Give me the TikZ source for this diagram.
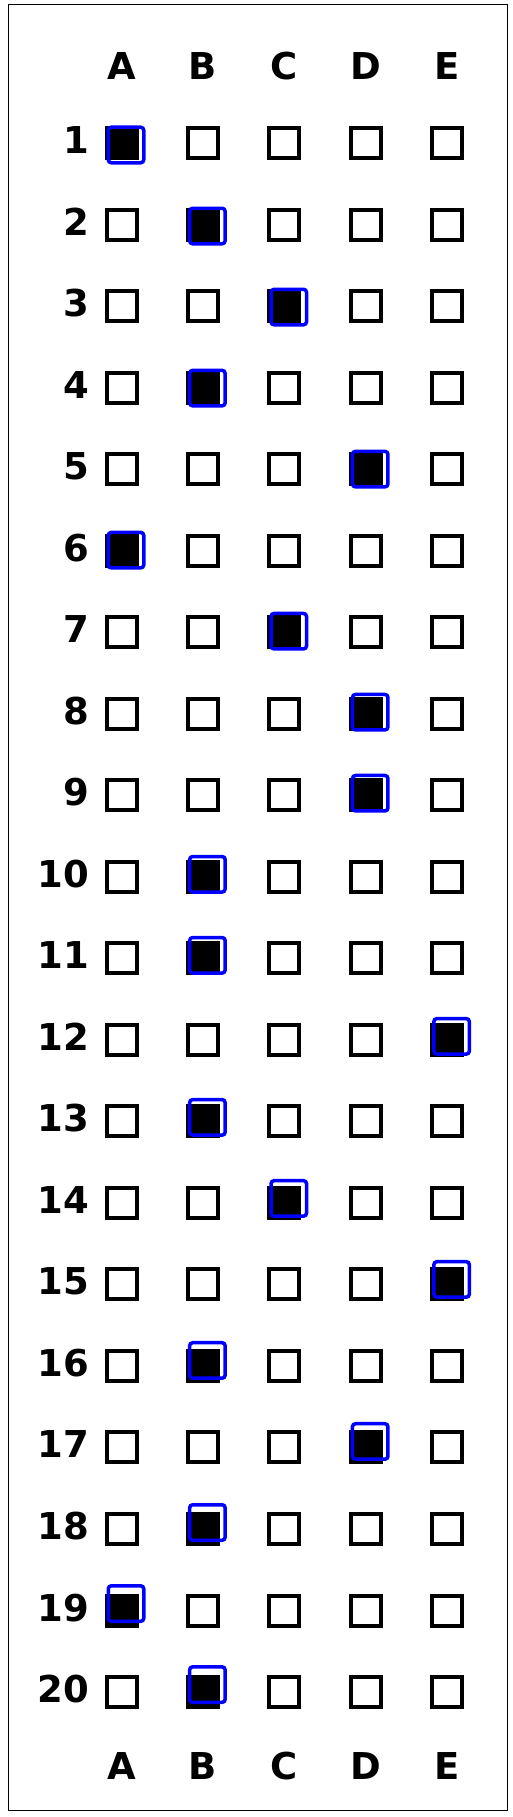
\documentclass[tikz,border=0pt]{standalone}
\usepackage{fontspec}
\setmainfont{DejaVu Sans}
\begin{document}
\begin{tikzpicture}[x=1pt, y=1pt]
\tikzset{ inner sep=0pt, outer sep=0pt,
  optbox/.style={draw, line width=4pt, minimum size=30pt},
  markbox/.style={draw=blue, line width=3.5pt, minimum size=35.5pt, rounded corners=3pt},
  lettr/.style={font=\bfseries\fontsize{37}{37}\selectfont},
}
\useasboundingbox (0,0) rectangle (513,-1817);

%\draw [lightgray, dashed](0,0) grid [step=50] (513,-1817);

\draw [line width=1pt] (8,-5) rectangle (507,-1810);

% column letters, top and bottom
\foreach \c [count=\i from 0] in {A,B,C,D,E} {
  \node [lettr] (h\c) at ({121.5+81.4*\i}, -66)   {\c};
  \node [lettr] (f\c) at ({121.5+81.4*\i}, -1766) {\c};
}

% answer grid
\foreach \r in {1,...,20} {
  \node [lettr, anchor=east] (n\r) at (89, {-140-81.53*(\r-1)}) {\r};
  \foreach \c [count=\i from 0] in {A,B,C,D,E}
    \node [optbox] (q\r\c) at ({121.5+81.4*\i}, {-143-81.53*(\r-1)}) {};
}

% marked answers
\foreach \r/\c in {1/A, 2/B, 3/C, 4/B, 5/D, 6/A, 7/C, 8/D, 9/D, 10/B,
                   11/B, 12/E, 13/B, 14/C, 15/E, 16/B, 17/D, 18/B, 19/A, 20/B} {
  \fill (q\r\c.south west) rectangle (q\r\c.north east);
  \node [markbox] (m\r) at ([shift={(4.5,{0.5*\r-2.5})}]q\r\c.center) {};
}
\end{tikzpicture}
\end{document}
